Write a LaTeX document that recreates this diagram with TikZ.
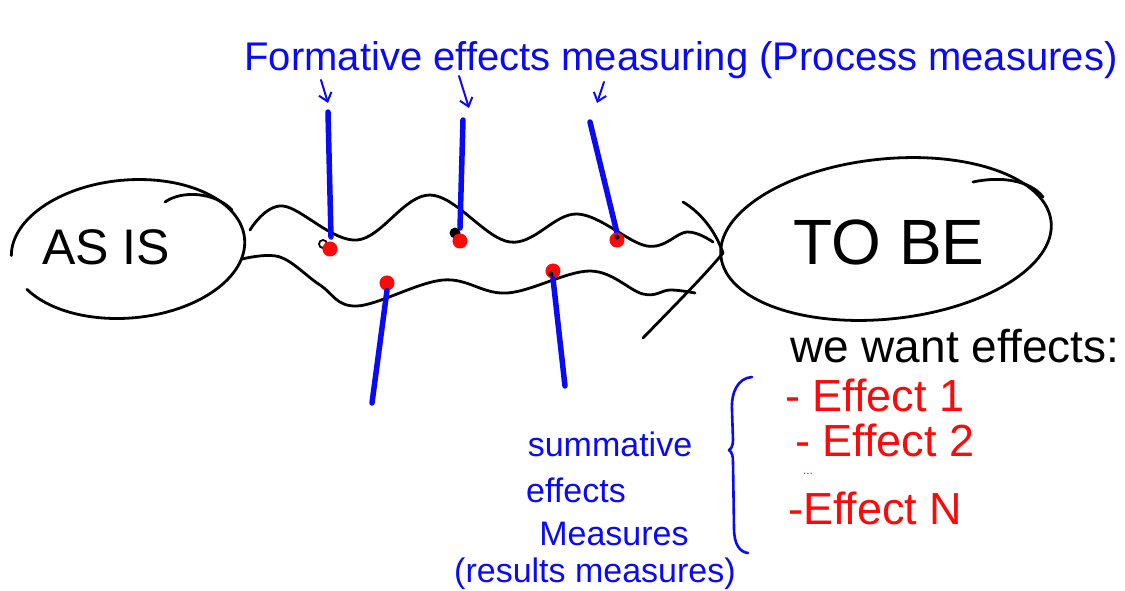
\documentclass[tikz,border=0pt]{standalone}
\usepackage{fontspec}
\setmainfont{Liberation Sans}
\usetikzlibrary{arrows.meta}
\definecolor{penblue}{RGB}{10,10,245}
\definecolor{penred}{RGB}{250,10,10}
\begin{document}
\begin{tikzpicture}[x=1pt,y=-1pt,
  ink/.style={line width=2.8pt,line cap=round,line join=round},
  stick/.style={penblue,line width=5.5pt,line cap=round},
  pointer/.style={penblue,line width=2pt,line cap=round,-{Straight Barb[length=8pt,width=13pt,line width=2pt]}},
  reddot/.style={circle,fill=penred,draw=penred,line width=1pt,inner sep=0pt,minimum size=14pt},
  lbl/.style={inner sep=0pt},
  bigtxt/.style={lbl,font=\fontsize{40}{44}\selectfont},
  bluetxt/.style={lbl,text=penblue,font=\fontsize{34}{40}\selectfont},
  redtxt/.style={lbl,text=penred,anchor=base west,font=\fontsize{45}{48}\selectfont},
]
\useasboundingbox (0,0) rectangle (1125,590);
\fill[white] (0,0) rectangle (1125,590);

% AS IS ellipse
\draw[ink,rotate around={5:(128,249)}] (11.2,245.4) arc[start angle=183,end angle=513,x radius=117,y radius=69];
\draw[ink] (165,202) .. controls (182,190) and (215,192) .. (232,210);
\node[lbl,anchor=base,font=\fontsize{50}{56}\selectfont] (asis) at (106,264) {AS IS};

% TO BE ellipse
\draw[ink,rotate around={6:(886,239)}] (886,239) ellipse[x radius=166,y radius=80];
\draw[ink] (973,182) .. controls (1000,176) and (1030,180) .. (1043,197);
\node[lbl,anchor=base,font=\fontsize{64}{70}\selectfont] (tobe) at (889,264) {TO BE};

% wavy tube
\draw[ink] plot[smooth,tension=0.6] coordinates {(250,230) (283,206) (357,240) (430,195) (510,242) (577,214) (647,246) (687,232) (713,242)};
\draw[ink] plot[smooth,tension=0.6] coordinates {(242,259) (280,257) (320,285) (357,306) (443,280) (507,293) (590,271) (643,294) (670,290) (695,293)};
\draw[ink] (683,202) .. controls (700,212) and (715,230) .. (723,253);
\draw[ink] (643,338) .. controls (675,305) and (705,275) .. (723,253);

% formative measuring points
\coordinate (f1top) at (328,112); \coordinate (f1bot) at (331,237);
\coordinate (f2top) at (463,120); \coordinate (f2bot) at (460,228);
\coordinate (f3top) at (590,122); \coordinate (f3bot) at (617,233);
\draw[stick] (f1top) -- (f1bot);
\draw[stick] (f2top) -- (f2bot);
\draw[stick] (f3top) -- (f3bot);
\draw[black,line width=1.8pt] (323,244) circle[radius=4];
\fill[black] (455,233) circle[radius=5.5];
\node[reddot] (r1) at (330,249) {};
\node[reddot] (r2) at (460,241) {};
\node[reddot] (r3) at (617,240) {};
\fill[black] (617,237) circle[radius=2.5];

% summative measuring points
\node[reddot] (r4) at (387,283) {};
\node[reddot] (r5) at (553,271) {};
\fill[black] (551,274) circle[radius=2.5];
\coordinate (s1bot) at (372,403);
\coordinate (s2bot) at (565,386);
\draw[stick] (r4.south) -- (s1bot);
\draw[stick] (r5.south) -- (s2bot);

% title and pointers
\node[bigtxt,text=penblue,anchor=base] (title) at (681,70) {Formative effects measuring (Process measures)};
\coordinate (a1s) at (321,80); \coordinate (a1e) at (328,103);
\coordinate (a2s) at (459,76); \coordinate (a2e) at (469,108);
\coordinate (a3s) at (604,82); \coordinate (a3e) at (597,103);
\draw[pointer] (a1s) -- (a1e);
\draw[pointer] (a2s) -- (a2e);
\draw[pointer] (a3s) -- (a3e);

% we want effects
\node[lbl,anchor=base west,font=\fontsize{46}{50}\selectfont] (want) at (790,362) {we want effects:};

% brace
\draw[penblue,line width=2.6pt,line cap=round,line join=round]
  (752,377) .. controls (738,378) and (731,392) .. (732,410)
  -- (733,440) .. controls (733,446) and (731,449) .. (729,450)
  .. controls (732,452) and (733,456) .. (733,462)
  -- (734,528) .. controls (734,545) and (740,552) .. (748,553);

% effects list
\node[redtxt] (e1) at (785,411) {- Effect 1};
\node[redtxt] (e2) at (795,456) {- Effect 2};
\node[lbl,text=penred,font=\fontsize{12}{14}\selectfont] (dots) at (808,474) {...};
\node[redtxt] (en) at (788,524) {-Effect N};

% summative label
\node[bluetxt] (sum) at (610,444) {summative};
\node[bluetxt] (eff) at (576,490) {effects};
\node[bluetxt] (mea) at (614,534) {Measures};
\node[bluetxt] (res) at (595,574) {(results measures)};
\end{tikzpicture}
\end{document}
